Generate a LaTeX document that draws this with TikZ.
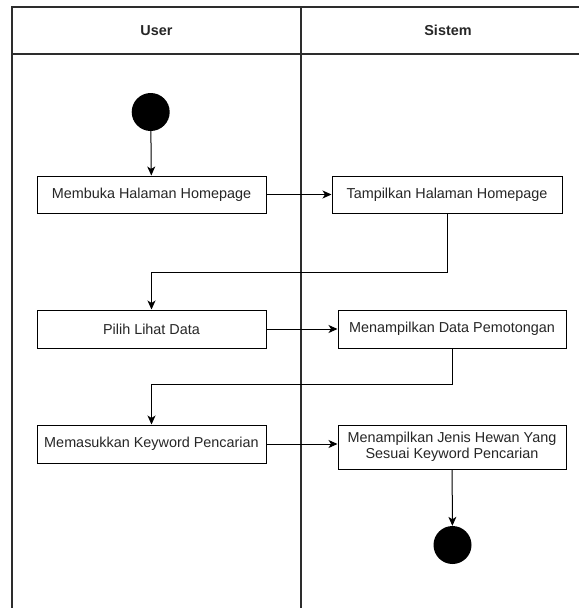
\documentclass[tikz,border=0pt]{standalone}
\usepackage{fontspec}
\setmainfont{Liberation Sans}
\usetikzlibrary{arrows.meta}
\definecolor{lane}{RGB}{45,45,45}
\definecolor{ink}{RGB}{38,38,38}
\tikzset{
  actbox/.style={draw=black, line width=1pt, fill=white, text=ink,
    font=\fontsize{14.4}{16.5}\selectfont, align=center, inner sep=2pt},
  laneline/.style={draw=lane, line width=1.4pt},
  flow/.style={draw=black, line width=1pt, -{Stealth[length=9pt,width=8pt,inset=2.5pt]}},
  dot/.style={circle, fill=black, minimum size=38pt, inner sep=0pt},
  lanehead/.style={text=ink, font=\fontsize{14.4}{17}\selectfont\bfseries}
}
\begin{document}
\begin{tikzpicture}[x=1pt,y=-1pt]
\useasboundingbox (0,0) rectangle (579,608);

% swimlanes
\draw[laneline] (12,608) -- (12,7) -- (579,7);
\draw[laneline] (12,54) -- (579,54);
\draw[laneline] (301,7) -- (301,608);
\node[lanehead] (hUser) at (156.5,30.5) {User};
\node[lanehead] (hSistem) at (448,30.5) {Sistem};

% start and end
\node[dot] (start) at (150.7,112) {};
\node[dot] (stop) at (452.5,545) {};

% activities
\node[actbox, minimum width=229pt, minimum height=37pt] (b1) at (151.5,194.5) {Membuka Halaman Homepage};
\node[actbox, minimum width=230pt, minimum height=37pt] (b2) at (447,194.5) {Tampilkan Halaman Homepage};
\node[actbox, minimum width=229pt, minimum height=38pt] (b3) at (151.5,329) {Pilih Lihat Data};
\node[actbox, minimum width=228pt, minimum height=38pt] (b4) at (452,329) {Menampilkan Data Pemotongan};
\node[actbox, minimum width=229pt, minimum height=38pt] (b5) at (151.5,444) {Memasukkan Keyword Pencarian};
\node[actbox, minimum width=228pt, minimum height=44pt] (b6) at (452,447) {Menampilkan Jenis Hewan Yang\\Sesuai Keyword Pencarian};

% bends of the return connectors
\coordinate (k1) at (447,272.5);
\coordinate (k2) at (452,384);

% flow
\draw[flow] (start) -- (b1);
\draw[flow] (b1) -- (b2);
\draw[flow] (b2.south) -- (k1) -| (b3.north);
\draw[flow] (b3) -- (b4);
\draw[flow] (b4.south) -- (k2) -| (b5.north);
\draw[flow] (b5) -- (b5 -| b6.west);
\draw[flow] (b6) -- (stop);
\end{tikzpicture}
\end{document}
